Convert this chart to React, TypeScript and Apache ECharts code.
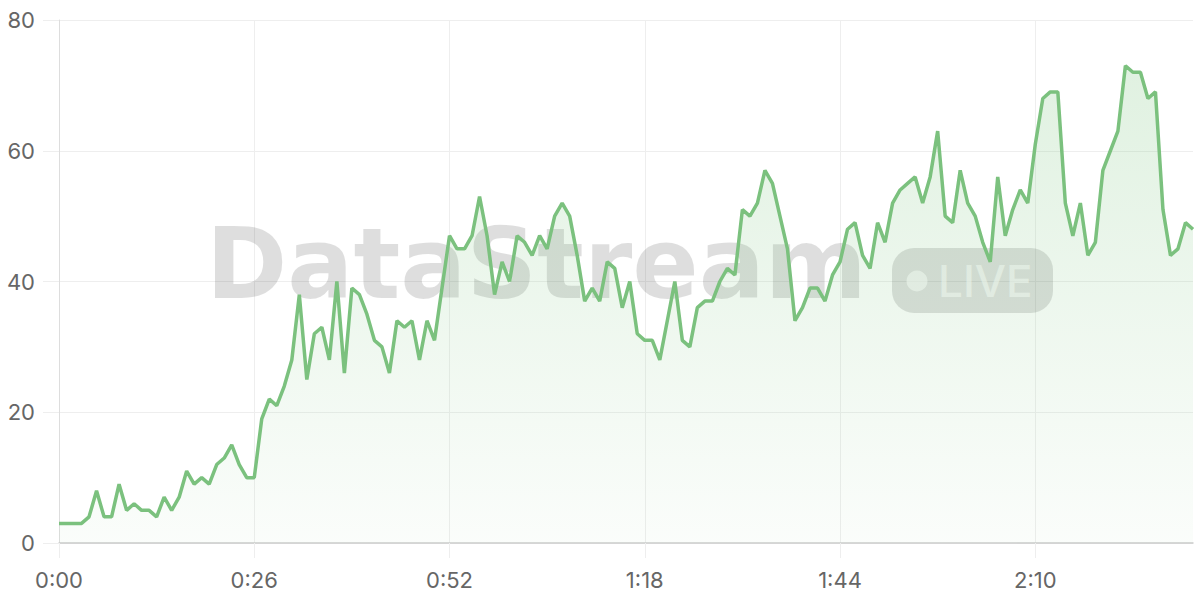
import React, { useEffect, useRef } from "react";
import * as echarts from "echarts";

const values: number[] = [
  3, 3, 3, 3, 4, 8, 4, 4, 9, 5, 6, 5, 5, 4, 7, 5, 7, 11, 9, 10,
  9, 12, 13, 15, 12, 10, 10, 19, 22, 21, 24, 28, 38, 25, 32, 33, 28, 40, 26, 39,
  38, 35, 31, 30, 26, 34, 33, 34, 28, 34, 31, 39, 47, 45, 45, 47, 53, 47, 38, 43,
  40, 47, 46, 44, 47, 45, 50, 52, 50, 44, 37, 39, 37, 43, 42, 36, 40, 32, 31, 31,
  28, 34, 40, 31, 30, 36, 37, 37, 40, 42, 41, 51, 50, 52, 57, 55, 50, 45, 34, 36,
  39, 39, 37, 41, 43, 48, 49, 44, 42, 49, 46, 52, 54, 55, 56, 52, 56, 63, 50, 49,
  57, 52, 50, 46, 43, 56, 47, 51, 54, 52, 61, 68, 69, 69, 52, 47, 52, 44, 46, 57,
  60, 63, 73, 72, 72, 68, 69, 51, 44, 45, 49, 48,
];

const categories: string[] = values.map((_, i) => {
  const m = Math.floor(i / 60);
  const s = i % 60;
  return `${m}:${s < 10 ? "0" + s : s}`;
});

const yTicks = { min: 0, max: 80, interval: 20 };
const watermarkTitle = "DataStream";
const watermarkBadge = "LIVE";

export default function App() {
  const ref = useRef<HTMLDivElement>(null);
  useEffect(() => {
    if (!ref.current) return;
    const chart = echarts.init(ref.current, null, { renderer: "svg" });
    const font = "Inter, 'Noto Sans', sans-serif";
    chart.setOption({
      animation: false,
      backgroundColor: "#ffffff",
      grid: { left: 59, right: 7, top: 20, bottom: 57 },
      graphic: [
        {
          type: "text",
          z: 1,
          silent: true,
          style: {
            x: 206,
            y: 264,
            text: watermarkTitle,
            fontSize: 98,
            fontWeight: "bold",
            fontFamily: "'DejaVu Sans', sans-serif",
            fill: "rgba(0,0,0,0.13)",
            textVerticalAlign: "middle",
          },
        },
        {
          type: "rect",
          z: 1,
          silent: true,
          shape: { x: 892, y: 248, width: 161, height: 65, r: 22 },
          style: { fill: "rgba(0,0,0,0.13)" },
        },
        {
          type: "circle",
          z: 1,
          silent: true,
          shape: { cx: 917, cy: 281, r: 10.5 },
          style: { fill: "rgba(255,255,255,0.6)" },
        },
        {
          type: "text",
          z: 1,
          silent: true,
          style: {
            x: 938,
            y: 281,
            text: watermarkBadge,
            fontSize: 44,
            fontWeight: 500,
            fontFamily: font,
            fill: "rgba(255,255,255,0.6)",
            textVerticalAlign: "middle",
          },
        },
      ],
      xAxis: {
        type: "category",
        data: categories,
        boundaryGap: false,
        axisLine: { lineStyle: { color: "#cccccc", width: 1.5 } },
        axisTick: {
          show: true,
          interval: 25,
          length: 15,
          lineStyle: { color: "#eeeeee" },
        },
        splitLine: {
          show: true,
          interval: 25,
          lineStyle: { color: "#eeeeee" },
        },
        axisLabel: {
          interval: 25,
          margin: 26,
          fontSize: 22,
          color: "#666666",
          fontFamily: font,
        },
      },
      yAxis: {
        type: "value",
        min: yTicks.min,
        max: yTicks.max,
        interval: yTicks.interval,
        axisLine: { show: true, lineStyle: { color: "#dddddd" } },
        axisTick: { show: true, length: 16, lineStyle: { color: "#eeeeee" } },
        splitLine: { show: true, lineStyle: { color: "#eeeeee" } },
        axisLabel: {
          margin: 24,
          fontSize: 22,
          color: "#666666",
          fontFamily: font,
        },
      },
      series: [
        {
          type: "line",
          data: values,
          showSymbol: false,
          smooth: false,
          z: 3,
          lineStyle: { color: "#7bc17e", width: 3.5 },
          itemStyle: { color: "#7bc17e" },
          areaStyle: {
            color: new echarts.graphic.LinearGradient(0, 0, 0, 1, [
              { offset: 0, color: "rgba(129,199,132,0.35)" },
              { offset: 1, color: "rgba(129,199,132,0.05)" },
            ]),
          },
        },
      ],
    });
    return () => chart.dispose();
  }, []);
  return (
    <div
      ref={ref}
      style={{ position: "fixed", left: 0, top: 0, width: 1200, height: 600 }}
    />
  );
}
